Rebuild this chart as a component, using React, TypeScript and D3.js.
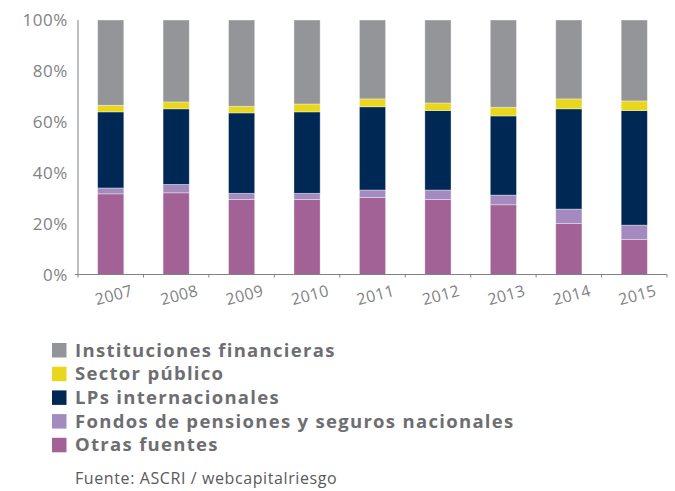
import React from "react";
import * as d3 from "d3";

const years = ["2007", "2008", "2009", "2010", "2011", "2012", "2013", "2014", "2015"];
const seriesNames = [
  "Otras fuentes",
  "Fondos de pensiones y seguros nacionales",
  "LPs internacionales",
  "Sector público",
  "Instituciones financieras",
];
const otras = [31.7, 32.1, 29.5, 29.5, 30.3, 29.5, 27.4, 20.0, 13.8];
const fondos = [2.3, 3.3, 2.4, 2.4, 2.9, 3.7, 3.8, 5.7, 5.6];
const lps = [29.9, 29.7, 31.6, 32.0, 32.7, 31.2, 31.1, 39.4, 45.0];
const sector = [2.6, 2.7, 2.6, 3.1, 3.1, 3.0, 3.4, 3.9, 3.8];
const instituciones = [33.5, 32.2, 33.9, 33.0, 31.0, 32.6, 34.3, 31.0, 31.8];
const yTicks = [0, 20, 40, 60, 80, 100];
const colors = ["#a36296", "#a38bbf", "#002855", "#e8d71c", "#939598"];
const legendOrder = [4, 3, 2, 1, 0];

const W = 675;
const H = 491;
const m = { left: 78, right: 667, top: 20, bottom: 274.5 };

export default function App() {
  const seriesVals = [otras, fondos, lps, sector, instituciones];
  const rows = years.map((y, i) => {
    const r: any = { year: y };
    seriesNames.forEach((s, k) => (r[s] = seriesVals[k][i]));
    return r;
  });
  const stack = d3.stack<any>().keys(seriesNames)(rows);
  const x = d3.scaleBand().domain(years).range([m.left, m.right]).paddingInner(0.6).paddingOuter(0.3);
  const xb = d3.scaleBand().domain(years).range([m.left, m.right]);
  const y = d3.scaleLinear().domain([0, 100]).range([m.bottom, m.top]);
  const gray = "#808285";
  const font = "'Open Sans', sans-serif";

  return (
    <svg width={W} height={H} style={{ position: "absolute", left: 0, top: 0 }}>
      <rect width={W} height={H} fill="#fff" />
      {stack.map((layer, k) => (
        <g key={k} fill={colors[k]}>
          {layer.map((d, i) => (
            <rect
              key={i}
              x={x(years[i])}
              width={x.bandwidth()}
              y={y(d[1])}
              height={y(d[0]) - y(d[1])}
              stroke="#ffffff"
              strokeOpacity={0.45}
              strokeWidth={0.8}
            />
          ))}
        </g>
      ))}
      <line x1={m.left} x2={m.left} y1={m.top} y2={m.bottom} stroke={gray} strokeWidth={1} />
      <line x1={m.left - 3} x2={m.right} y1={m.bottom} y2={m.bottom} stroke={gray} strokeWidth={1.2} />
      {years.map((yr) => (
        <line key={yr} x1={(xb(yr) as number)} x2={(xb(yr) as number)} y1={m.bottom} y2={m.bottom + 3} stroke={gray} />
      ))}
      <line x1={m.right} x2={m.right} y1={m.bottom} y2={m.bottom + 3} stroke={gray} />
      {yTicks.map((t) => (
        <text key={t} x={68} y={y(t)} dy="0.36em" textAnchor="end" fontFamily={font} fontSize={17} letterSpacing={0.6} fill={gray}>
          {t}%
        </text>
      ))}
      {years.map((yr) => {
        const cx = (x(yr) as number) + x.bandwidth() / 2 + 3;
        return (
          <text
            key={yr}
            transform={`translate(${cx},${295}) rotate(-15)`}
            textAnchor="middle"
            dy="0.35em"
            fontFamily={font}
            fontSize={16}
            letterSpacing={0.4}
            fill={gray}
          >
            {yr}
          </text>
        );
      })}
      {legendOrder.map((k, i) => (
        <g key={k} transform={`translate(52,${350 + i * 23.7})`}>
          <rect x={0} y={-7} width={14.5} height={14.5} fill={colors[k]} />
          <text x={23} y={0} dy="0.36em" fontFamily={font} fontWeight="bold" fontSize={18.5} letterSpacing={1.3} fill="#6d6e71">
            {seriesNames[k]}
          </text>
        </g>
      ))}
      <text x={75} y={479} dy="0.3em" fontFamily={font} fontSize={16} letterSpacing={0.6} fill="#58595b">
        Fuente: ASCRI / webcapitalriesgo
      </text>
    </svg>
  );
}
